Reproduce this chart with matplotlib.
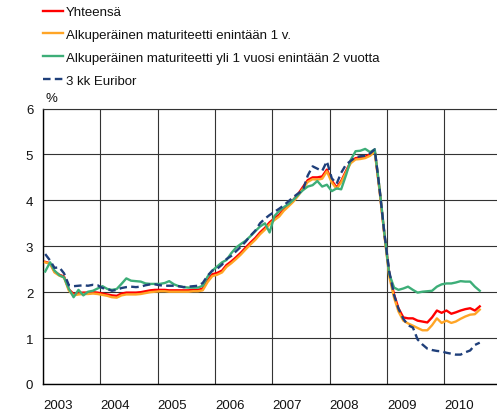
import matplotlib
matplotlib.use('Agg')
import matplotlib.pyplot as plt
import matplotlib.dates as mdates
import pandas as pd
from datetime import datetime

plt.rcParams['font.family'] = ['Liberation Sans', 'DejaVu Sans']

start_month = '2003-01-01'
n_months = 92

yhteensa = [
    2.66, 2.63, 2.45, 2.38, 2.34, 2.06, 1.96, 1.98, 1.99, 1.99, 2.00, 1.99,
    1.97, 1.95, 1.93, 1.92, 1.97, 1.99, 1.99, 1.99, 2.00, 2.02, 2.04, 2.05,
    2.05, 2.05, 2.04, 2.04, 2.04, 2.04, 2.04, 2.05, 2.05, 2.08, 2.26, 2.39,
    2.42, 2.47, 2.59, 2.67, 2.76, 2.86, 2.97, 3.08, 3.18, 3.30, 3.40, 3.52,
    3.61, 3.69, 3.81, 3.91, 4.01, 4.14, 4.29, 4.44, 4.50, 4.50, 4.52, 4.67,
    4.43, 4.28, 4.42, 4.64, 4.84, 4.92, 4.93, 4.95, 5.00, 5.08, 4.22, 3.27,
    2.42, 1.95, 1.65, 1.45, 1.43, 1.43, 1.38, 1.36, 1.34, 1.45, 1.60, 1.55,
    1.60, 1.53, 1.56, 1.60, 1.63, 1.65, 1.60, 1.69,
]

alle_1v = [
    2.65, 2.62, 2.43, 2.36, 2.32, 2.03, 1.93, 1.95, 1.96, 1.96, 1.97, 1.96,
    1.94, 1.92, 1.89, 1.88, 1.93, 1.95, 1.95, 1.95, 1.96, 1.98, 2.00, 2.01,
    2.02, 2.02, 2.01, 2.01, 2.01, 2.01, 2.01, 2.02, 2.02, 2.04, 2.22, 2.35,
    2.38, 2.43, 2.55, 2.63, 2.72, 2.82, 2.93, 3.04, 3.14, 3.26, 3.36, 3.48,
    3.57, 3.65, 3.77, 3.87, 3.97, 4.10, 4.25, 4.40, 4.46, 4.45, 4.47, 4.63,
    4.39, 4.25, 4.39, 4.61, 4.81, 4.89, 4.90, 4.92, 4.97, 5.06, 4.20, 3.25,
    2.35, 1.88, 1.58, 1.38, 1.32, 1.27, 1.22, 1.17, 1.17, 1.28, 1.43, 1.33,
    1.38, 1.33, 1.36, 1.42, 1.47, 1.51, 1.52, 1.62,
]

yli_1v = [
    2.45, 2.65, 2.47, 2.37, 2.32, 2.07, 1.89, 2.05, 1.93, 2.01, 2.03, 2.08,
    2.13, 2.07, 2.05, 2.07, 2.18, 2.30, 2.25, 2.24, 2.23, 2.19, 2.18, 2.18,
    2.18, 2.20, 2.24, 2.17, 2.13, 2.11, 2.10, 2.10, 2.10, 2.14, 2.34, 2.47,
    2.56, 2.65, 2.70, 2.85, 2.97, 3.05, 3.12, 3.22, 3.33, 3.43, 3.50, 3.30,
    3.66, 3.77, 3.85, 3.92, 4.01, 4.12, 4.22, 4.30, 4.33, 4.42, 4.30, 4.34,
    4.20, 4.26, 4.24, 4.55, 4.88, 5.07, 5.08, 5.12, 5.05, 5.11, 4.25, 3.30,
    2.40, 2.10, 2.05, 2.08, 2.12, 2.05, 1.99, 2.01, 2.02, 2.03, 2.12, 2.17,
    2.19, 2.19, 2.21, 2.24, 2.23, 2.23, 2.12, 2.03,
]

euribor = [
    2.83, 2.69, 2.53, 2.54, 2.41, 2.15, 2.13, 2.14, 2.15, 2.14, 2.16, 2.15,
    2.09, 2.07, 2.03, 2.05, 2.09, 2.11, 2.12, 2.11, 2.12, 2.15, 2.17, 2.17,
    2.15, 2.14, 2.14, 2.14, 2.13, 2.11, 2.12, 2.13, 2.14, 2.20, 2.36, 2.47,
    2.51, 2.60, 2.72, 2.79, 2.89, 2.99, 3.10, 3.23, 3.34, 3.50, 3.60, 3.68,
    3.75, 3.82, 3.89, 3.98, 4.07, 4.15, 4.22, 4.54, 4.74, 4.69, 4.64, 4.85,
    4.48, 4.36, 4.60, 4.78, 4.86, 4.94, 4.96, 4.97, 5.02, 5.11, 4.24, 3.29,
    2.46, 1.94, 1.64, 1.42, 1.28, 1.23, 0.97, 0.86, 0.77, 0.74, 0.72, 0.71,
    0.68, 0.66, 0.64, 0.64, 0.69, 0.73, 0.85, 0.90,
]

labels = [
    'Yhteensä',
    'Alkuperäinen maturiteetti enintään 1 v.',
    'Alkuperäinen maturiteetti yli 1 vuosi enintään 2 vuotta',
    '3 kk Euribor',
]

dates = pd.date_range(start_month, periods=n_months, freq='MS') + pd.Timedelta(days=14)

W, H = 497, 414
fig = plt.figure(figsize=(W / 100, H / 100), dpi=100)
ax = fig.add_axes([43 / W, 1 - 385 / H, (W - 43) / W, (385 - 109.5) / H])

lw = 1.7
l1, = ax.plot(dates, yhteensa, color='#ff0000', lw=lw, zorder=3)
l2, = ax.plot(dates, alle_1v, color='#ffa526', lw=lw, zorder=4)
l3, = ax.plot(dates, yli_1v, color='#3dae78', lw=lw, zorder=5)
l4, = ax.plot(dates, euribor, color='#1f3f7a', lw=lw, ls=(0, (3.2, 1.8)), zorder=6)

ax.set_xlim(datetime(2003, 1, 1), datetime(2010, 12, 3))
ax.set_ylim(0, 6)
ax.set_yticks(range(0, 7))
ax.xaxis.set_major_locator(mdates.YearLocator())
ax.xaxis.set_major_formatter(mdates.DateFormatter('%Y'))
for t in ax.get_xticklabels():
    t.set_ha('left')

ax.grid(True, color='#333333', lw=0.8, zorder=1)
ax.set_axisbelow(True)
ax.spines['right'].set_visible(False)
ax.spines['top'].set_color('#333333')
ax.spines['top'].set_linewidth(0.8)
for s in ['left', 'bottom']:
    ax.spines[s].set_color('black')
    ax.spines[s].set_linewidth(1.0)
ax.tick_params(axis='both', length=0, labelsize=9.5, colors='#111111')
ax.tick_params(axis='x', pad=11)
ax.tick_params(axis='y', pad=7)

fig.text(51 / W, 1 - 99 / H, '%', ha='center', va='center', fontsize=9.5, color='#111111')

fig.legend([l1, l2, l3, l4], labels, loc='upper left',
           bbox_to_anchor=(43 / W, 1 - 7 / H), frameon=False, fontsize=9.5,
           handlelength=1.5, handletextpad=0.25, labelspacing=0.8,
           borderaxespad=0, borderpad=0, labelcolor='#111111')

fig.savefig('out.png', dpi=100)
